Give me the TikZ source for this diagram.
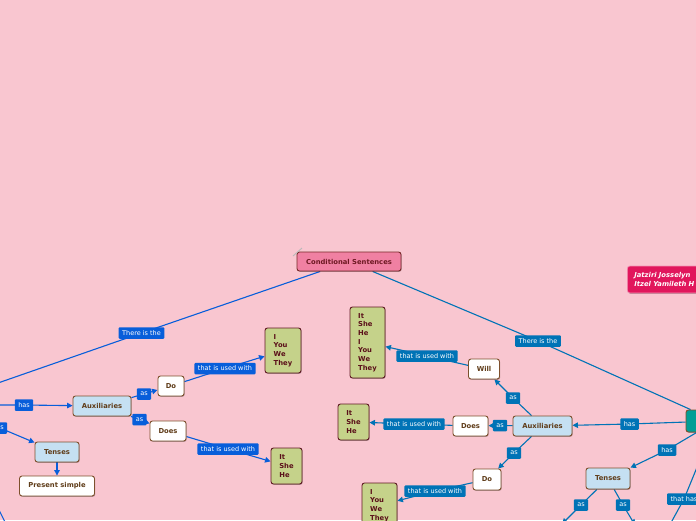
\documentclass[tikz,border=0pt]{standalone}
\usepackage{fontspec}
\setmainfont{DejaVu Sans}
\usetikzlibrary{arrows.meta,shadows}
\pgfdeclarelayer{back}\pgfdeclarelayer{bg}
\pgfsetlayers{back,bg,main}
\definecolor{pagebg}{RGB}{249,198,208}
\definecolor{blueL}{RGB}{8,94,218}
\definecolor{blueR}{RGB}{0,115,182}
\definecolor{csfill}{RGB}{240,128,162}
\definecolor{csdraw}{RGB}{120,40,40}
\definecolor{cstext}{RGB}{110,25,35}
\definecolor{greenfill}{RGB}{197,210,138}
\definecolor{greendraw}{RGB}{95,25,35}
\definecolor{greentext}{RGB}{90,15,25}
\definecolor{auxfill}{RGB}{197,224,242}
\definecolor{browndraw}{RGB}{125,80,45}
\definecolor{browntext}{RGB}{95,60,25}
\definecolor{tealfill}{RGB}{0,158,150}
\definecolor{authfill}{RGB}{225,22,92}
\tikzset{
  box/.style={rounded corners=2.5pt, line width=0.9pt, inner sep=0pt,
    font=\fontsize{6.8}{8.7}\selectfont\bfseries,
    drop shadow={shadow xshift=0.7pt,shadow yshift=-0.8pt,opacity=0.3,fill=black}},
  csbox/.style={box, fill=csfill, draw=csdraw, text=cstext},
  auxbox/.style={box, fill=auxfill, draw=browndraw, text=browntext},
  whitebox/.style={box, fill=white, draw=browndraw, text=browntext},
  greenbox/.style={box, fill=greenfill, draw=greendraw, text=greentext, align=left},
  tealbox/.style={box, fill=tealfill, draw=browndraw},
  authbox/.style={box, fill=authfill, draw=white!55!authfill, line width=0.7pt, text=white,
    font=\fontsize{6.8}{9}\selectfont\bfseries\itshape, align=left, text width=106pt, inner xsep=7pt},
  lbl/.style={rounded corners=1pt, inner xsep=3.5pt, inner ysep=0pt, minimum height=11.5pt,
    text=white, font=\fontsize{6.5}{7}\selectfont},
  lblL/.style={lbl, fill=blueL},
  lblR/.style={lbl, fill=blueR},
  connL/.style={draw=blueL, line width=1.1pt},
  connR/.style={draw=blueR, line width=1.1pt},
  tip/.style={-{Triangle[length=5.5pt,width=5.5pt]}},
}
\begin{document}
\begin{tikzpicture}[x=1pt,y=-1pt]
\useasboundingbox (0,0) rectangle (696,520);
\begin{pgfonlayer}{back}
  \fill[pagebg] (0,0) rectangle (696,520);
\end{pgfonlayer}

% central and header nodes
\node[csbox, minimum width=104pt, minimum height=19pt] (cs) at (349,261.5) {Conditional Sentences};
\draw[gray!55, line width=0.9pt] (293,256) -- (302,248);
\node[authbox, minimum height=27pt, anchor=west] (auth) at (627,279.5) {Jatziri Josselyn\\Itzel Yamileth H};
\node[tealbox, minimum width=60pt, minimum height=22pt] (teal) at (716,421) {};

% left branch nodes
\node[auxbox, minimum width=58pt, minimum height=20pt] (auxL) at (102,406) {Auxiliaries};
\node[auxbox, minimum width=44pt, minimum height=20pt] (tenL) at (57,452) {Tenses};
\node[whitebox, minimum width=75pt, minimum height=20pt] (presL) at (57,486) {Present simple};
\node[whitebox, minimum width=26pt, minimum height=20pt] (doL) at (171,386) {Do};
\node[whitebox, minimum width=36pt, minimum height=20pt] (doesL) at (168,431) {Does};
\node[greenbox, minimum width=36pt, minimum height=45pt] (gL1) at (283,350.5) {I\\You\\We\\They};
\node[greenbox, minimum width=31pt, minimum height=36pt] (gL2) at (286.5,466) {It\\She\\He};

% right branch nodes
\node[auxbox, minimum width=59pt, minimum height=20pt] (auxR) at (542.5,426) {Auxiliaries};
\node[whitebox, minimum width=31pt, minimum height=20pt] (willR) at (484,369) {Will};
\node[whitebox, minimum width=35pt, minimum height=20pt] (doesR) at (470.5,426) {Does};
\node[whitebox, minimum width=28pt, minimum height=21pt] (doR) at (487,479.5) {Do};
\node[auxbox, minimum width=44pt, minimum height=21pt] (tenR) at (608,478.5) {Tenses};
\node[greenbox, minimum width=35pt, minimum height=71pt] (gR1) at (367.5,342.5) {It\\She\\He\\I\\You\\We\\They};
\node[greenbox, minimum width=31pt, minimum height=36pt] (gR2) at (353.5,422) {It\\She\\He};
\node[greenbox, minimum width=35pt, minimum height=45pt] (gR3) at (379.5,505.5) {I\\You\\We\\They};

% free ends
\coordinate (lroot1) at (-25,391);
\coordinate (lroot2) at (-25,405);
\coordinate (lroot3) at (-20,419);
\coordinate (lroot4) at (-4,504);
\coordinate (lbot4) at (6,524);
\coordinate (thEnd) at (667,530);
\coordinate (tsL) at (562,524);
\coordinate (tsR) at (635,525);

% labels (left)
\node[lblL] (tL) at (141.5,333) {There is the};
\node[lblL] (hL) at (24,405) {has};
\node[lblL] (aL0) at (0,428) {as};
\node[lblL] (aL1) at (144,394) {as};
\node[lblL] (aL2) at (139.5,419.5) {as};
\node[lblL] (uL1) at (225,368.5) {that is used with};
\node[lblL] (uL2) at (228,449) {that is used with};

% labels (right)
\node[lblR] (tR) at (538,341) {There is the};
\node[lblR] (hR1) at (629.5,424) {has};
\node[lblR] (hR2) at (667,450) {has};
\node[lblR] (thR) at (684,499) {that has};
\node[lblR] (aR1) at (513,398) {as};
\node[lblR] (aR2) at (500,425.5) {as};
\node[lblR] (aR3) at (514,453) {as};
\node[lblR] (aR4) at (581,505) {as};
\node[lblR] (aR5) at (623,505) {as};
\node[lblR] (uR1) at (427,356) {that is used with};
\node[lblR] (uR2) at (414,424) {that is used with};
\node[lblR] (uR3) at (435,491) {that is used with};

\begin{pgfonlayer}{bg}
  % left
  \draw[connL] (cs) -- (tL.center) -- (lroot1);
  \draw[connL,tip] (lroot2) -- (hL.center) -- (auxL);
  \draw[connL,tip] (lroot3) -- (aL0.center) -- (tenL);
  \draw[connL] (lroot4) -- (lbot4);
  \draw[connL,tip] (tenL) -- (presL);
  \draw[connL,tip] (auxL) -- (aL1.center) -- (doL);
  \draw[connL,tip] (auxL) -- (aL2.center) -- (doesL);
  \draw[connL,tip] (doL) -- (uL1.center) -- (gL1);
  \draw[connL,tip] (doesL) -- (uL2.center) -- (gL2);
  % right
  \draw[connR] (cs) -- (tR.center) -- (teal);
  \draw[connR,tip] (teal) -- (hR1.center) -- (auxR);
  \draw[connR,tip] (teal) -- (hR2.center) -- (tenR);
  \draw[connR,tip] (teal) -- (thR.center) -- (thEnd);
  \draw[connR,tip] (tenR) -- (aR4.center) -- (tsL);
  \draw[connR,tip] (tenR) -- (aR5.center) -- (tsR);
  \draw[connR,tip] (auxR) -- (aR1.center) -- (willR);
  \draw[connR,tip] (auxR) -- (aR2.center) -- (doesR);
  \draw[connR,tip] (auxR) -- (aR3.center) -- (doR);
  \draw[connR,tip] (willR) -- (uR1.center) -- (gR1);
  \draw[connR,tip] (doesR) -- (uR2.center) -- (gR2);
  \draw[connR,tip] (doR) -- (uR3.center) -- (gR3);
\end{pgfonlayer}
\end{tikzpicture}
\end{document}
